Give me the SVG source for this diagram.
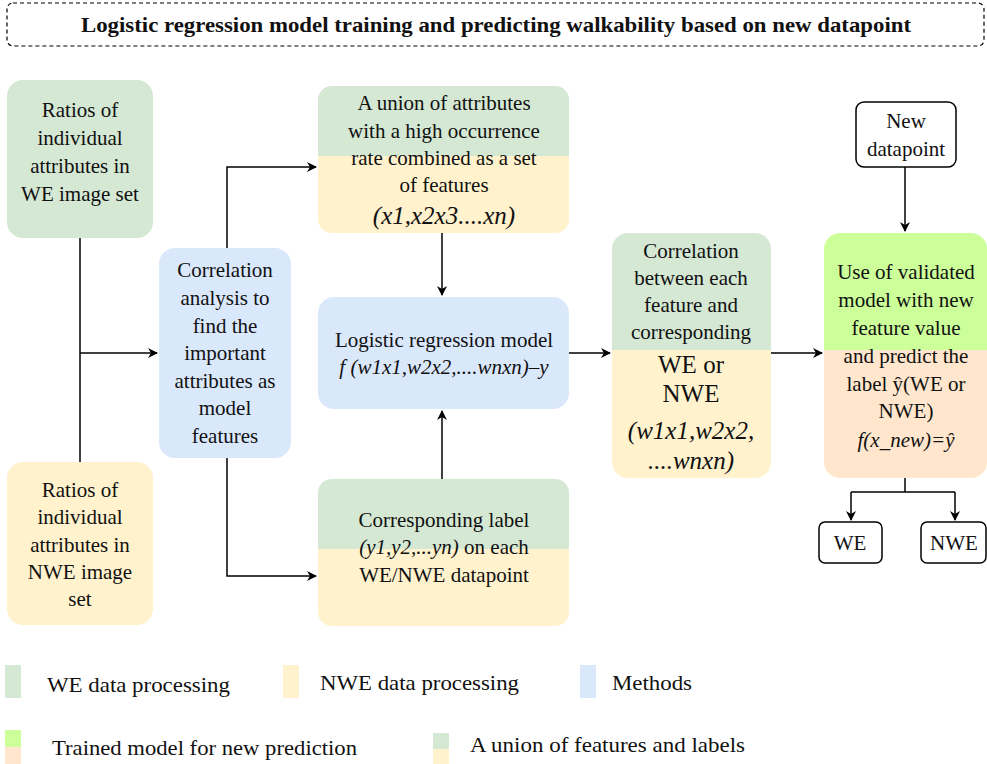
<svg xmlns="http://www.w3.org/2000/svg" width="987" height="764" viewBox="0 0 987 764" font-family="'Liberation Serif', 'Times New Roman', Tinos, 'DejaVu Serif', serif">
<defs>
<style>
text{font-family:'Liberation Serif','Times New Roman',Tinos,'DejaVu Serif',serif;font-size:21px;fill:#111;text-anchor:middle}
.it{font-style:italic}
.big{font-size:25px}
.ttl{font-weight:bold;font-size:21px}
.lg{text-anchor:start}
.ln{fill:none;stroke:#000;stroke-width:1.5}
.bx{fill:#fff;stroke:#000;stroke-width:1.5}
</style>
<marker id="ah" viewBox="0 0 10 10" refX="9" refY="5" markerWidth="10" markerHeight="10" orient="auto" markerUnits="userSpaceOnUse">
<path d="M0,0 L10,5 L0,10 L3,5 z" fill="#000"/>
</marker>
<clipPath id="c-union"><rect x="318" y="86" width="251" height="147" rx="14"/></clipPath>
<clipPath id="c-label"><rect x="318" y="479" width="251" height="147" rx="14"/></clipPath>
<clipPath id="c-corr2"><rect x="612" y="233" width="159" height="245" rx="16"/></clipPath>
<clipPath id="c-use"><rect x="824" y="233" width="163" height="245" rx="16"/></clipPath>
</defs>
<rect width="987" height="764" fill="#fff"/>

<g id="title">
<rect x="7" y="3" width="977" height="43" rx="6" fill="none" stroke="#000" stroke-width="1.2" stroke-dasharray="4 3"/>
<text class="ttl" x="496" y="32" textLength="830" lengthAdjust="spacingAndGlyphs">Logistic regression model training and predicting walkability based on new datapoint</text>
</g>

<g id="connectors">
<path class="ln" d="M80,238 V462"/>
<path class="ln" d="M80,353 H157" marker-end="url(#ah)"/>
<path class="ln" d="M227,248 V167 H316" marker-end="url(#ah)"/>
<path class="ln" d="M227,458 V576 H316" marker-end="url(#ah)"/>
<path class="ln" d="M442,233 V295" marker-end="url(#ah)"/>
<path class="ln" d="M442,479 V411" marker-end="url(#ah)"/>
<path class="ln" d="M569,353 H610" marker-end="url(#ah)"/>
<path class="ln" d="M771,353 H822" marker-end="url(#ah)"/>
<path class="ln" d="M905,167 V231" marker-end="url(#ah)"/>
<path class="ln" d="M905,478 V492"/>
<path class="ln" d="M851,492 H955"/>
<path class="ln" d="M851,492 V520" marker-end="url(#ah)"/>
<path class="ln" d="M955,492 V520" marker-end="url(#ah)"/>
</g>

<g id="we-ratios">
<rect x="7" y="80" width="146" height="158" rx="16" fill="#d5e8d4"/>
<text x="80" y="117">Ratios of</text>
<text x="80" y="145">individual</text>
<text x="80" y="173">attributes in</text>
<text x="80" y="201">WE image set</text>
</g>

<g id="nwe-ratios">
<rect x="7" y="462" width="146" height="163" rx="16" fill="#fff2cc"/>
<text x="80" y="497">Ratios of</text>
<text x="80" y="524">individual</text>
<text x="80" y="552">attributes in</text>
<text x="80" y="579">NWE image</text>
<text x="80" y="606">set</text>
</g>

<g id="correlation-analysis">
<rect x="159" y="248" width="132" height="210" rx="16" fill="#dae8fc"/>
<text x="225" y="277">Correlation</text>
<text x="225" y="305">analysis to</text>
<text x="225" y="333">find the</text>
<text x="225" y="360">important</text>
<text x="225" y="388">attributes as</text>
<text x="225" y="415">model</text>
<text x="225" y="443">features</text>
</g>

<g id="union-features">
<g clip-path="url(#c-union)">
<rect x="318" y="86" width="251" height="70" fill="#d5e8d4"/>
<rect x="318" y="156" width="251" height="77" fill="#fff2cc"/>
</g>
<text x="444" y="110">A union of attributes</text>
<text x="444" y="138">with a high occurrence</text>
<text x="444" y="165">rate combined as a set</text>
<text x="444" y="192">of features</text>
<text x="444" y="224" class="it big">(x1,x2x3....xn)</text>
</g>

<g id="logistic-model">
<rect x="318" y="297" width="251" height="112" rx="16" fill="#dae8fc"/>
<text x="444" y="347">Logistic regression model</text>
<text x="444" y="374" class="it">f (w1x1,w2x2,....wnxn)–y</text>
</g>

<g id="corresponding-label">
<g clip-path="url(#c-label)">
<rect x="318" y="479" width="251" height="70" fill="#d5e8d4"/>
<rect x="318" y="549" width="251" height="77" fill="#fff2cc"/>
</g>
<text x="444" y="527">Corresponding label</text>
<text x="444" y="554"><tspan class="it">(y1,y2,...yn)</tspan> on each</text>
<text x="444" y="582">WE/NWE datapoint</text>
</g>

<g id="correlation-between">
<g clip-path="url(#c-corr2)">
<rect x="612" y="233" width="159" height="117" fill="#d5e8d4"/>
<rect x="612" y="350" width="159" height="128" fill="#fff2cc"/>
</g>
<text x="691" y="258">Correlation</text>
<text x="691" y="285">between each</text>
<text x="691" y="312">feature and</text>
<text x="691" y="339">corresponding</text>
<text x="691" y="373" class="big">WE or</text>
<text x="691" y="402" class="big">NWE</text>
<text x="691" y="439" class="it big">(w1x1,w2x2,</text>
<text x="691" y="469" class="it big">....wnxn)</text>
</g>

<g id="new-datapoint">
<rect class="bx" x="856" y="102" width="100" height="65" rx="8"/>
<text x="906" y="128">New</text>
<text x="906" y="156">datapoint</text>
</g>

<g id="validated-model">
<g clip-path="url(#c-use)">
<rect x="824" y="233" width="163" height="117" fill="#ccff99"/>
<rect x="824" y="350" width="163" height="128" fill="#ffe6cc"/>
</g>
<text x="906" y="279">Use of validated</text>
<text x="906" y="307">model with new</text>
<text x="906" y="335">feature value</text>
<text x="906" y="363">and predict the</text>
<text x="906" y="391">label ŷ(WE or</text>
<text x="906" y="418">NWE)</text>
<text x="906" y="447" class="it">f(x_new)=ŷ</text>
</g>

<g id="we-out">
<rect class="bx" x="819" y="522" width="63" height="41" rx="6"/>
<text x="850" y="550">WE</text>
</g>

<g id="nwe-out">
<rect class="bx" x="921" y="522" width="65" height="41" rx="6"/>
<text x="954" y="550">NWE</text>
</g>

<g id="legend">
<rect x="5" y="665" width="16" height="33" fill="#d5e8d4"/>
<text class="lg" x="47" y="692" textLength="183" lengthAdjust="spacingAndGlyphs">WE data processing</text>
<rect x="283" y="665" width="16" height="33" fill="#fff2cc"/>
<text class="lg" x="320" y="690" textLength="199" lengthAdjust="spacingAndGlyphs">NWE data processing</text>
<rect x="580" y="665" width="16" height="33" fill="#dae8fc"/>
<text class="lg" x="612" y="690" textLength="80" lengthAdjust="spacingAndGlyphs">Methods</text>
<rect x="5" y="730" width="16" height="17" fill="#ccff99"/>
<rect x="5" y="747" width="16" height="17" fill="#ffe6cc"/>
<text class="lg" x="52" y="755" textLength="305" lengthAdjust="spacingAndGlyphs">Trained model for new prediction</text>
<rect x="433" y="733" width="16" height="16" fill="#d5e8d4"/>
<rect x="433" y="749" width="16" height="15" fill="#fff2cc"/>
<text class="lg" x="470" y="752" textLength="275" lengthAdjust="spacingAndGlyphs">A union of features and labels</text>
</g>
</svg>
